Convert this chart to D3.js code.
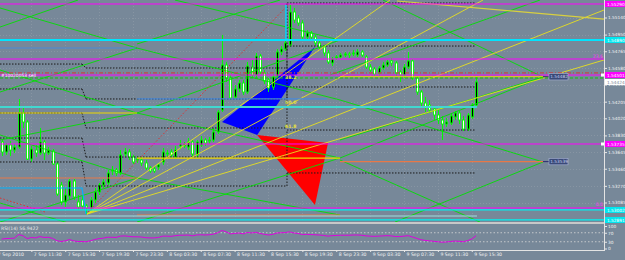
<!DOCTYPE html>
<html><head><meta charset="utf-8">
<script src="https://cdn.jsdelivr.net/npm/d3@7/dist/d3.min.js"></script>
<style>
html,body{margin:0;padding:0;background:#778899;overflow:hidden;}
svg{display:block;}
text{font-family:"DejaVu Sans",sans-serif;}
</style></head><body>
<svg id="c" width="625" height="260"></svg>
<script>
// ---------- DATA ----------
const opens=[1.53757,1.53646,1.53724,1.53668,1.53701,1.54079,1.53979,1.53568,1.53668,1.53635,1.53757,1.53635,1.53657,1.53513,1.53279,1.53091,1.53157,1.53324,1.53091,1.53113,1.53046,1.53024,1.53113,1.53202,1.53279,1.53302,1.53435,1.53446,1.53413,1.53624,1.53646,1.53590,1.53557,1.53557,1.53524,1.53468,1.53457,1.53479,1.53535,1.53624,1.53646,1.53590,1.53713,1.53713,1.53701,1.53757,1.53613,1.53724,1.53779,1.53768,1.53779,1.53868,1.54112,1.54612,1.54468,1.54257,1.54346,1.54412,1.54312,1.54590,1.54501,1.54712,1.54523,1.54446,1.54368,1.54490,1.54757,1.54790,1.54835,1.55201,1.55135,1.55079,1.54923,1.54968,1.54923,1.54857,1.54812,1.54746,1.54635,1.54690,1.54701,1.54723,1.54735,1.54735,1.54723,1.54757,1.54701,1.54590,1.54568,1.54523,1.54579,1.54612,1.54657,1.54635,1.54535,1.54501,1.54590,1.54657,1.54468,1.54312,1.54190,1.54168,1.54124,1.54057,1.54001,1.53957,1.53968,1.54035,1.54079,1.54001,1.53901,1.54035,1.54168];
const highs=[1.53779,1.53746,1.53768,1.53735,1.54235,1.54135,1.54001,1.53713,1.53724,1.53913,1.53779,1.53701,1.53679,1.53535,1.53313,1.53246,1.53346,1.53346,1.53168,1.53157,1.53068,1.53146,1.53246,1.53302,1.53346,1.53446,1.53490,1.53468,1.53668,1.53690,1.53679,1.53613,1.53602,1.53590,1.53557,1.53490,1.53490,1.53524,1.53690,1.53668,1.53679,1.53713,1.53779,1.53757,1.53801,1.53790,1.53779,1.53824,1.53801,1.53813,1.53913,1.54112,1.54946,1.54646,1.54501,1.54390,1.54446,1.54446,1.54646,1.54668,1.54746,1.54735,1.54557,1.54468,1.54512,1.54790,1.54823,1.54890,1.55279,1.55246,1.55168,1.55112,1.55001,1.54990,1.54946,1.54879,1.54835,1.54779,1.54701,1.54723,1.54746,1.54757,1.54757,1.54779,1.54790,1.54779,1.54723,1.54623,1.54590,1.54601,1.54646,1.54668,1.54690,1.54657,1.54557,1.54623,1.54757,1.54679,1.54490,1.54335,1.54257,1.54224,1.54146,1.54112,1.54046,1.54024,1.54079,1.54101,1.54101,1.54046,1.54079,1.54190,1.54479];
const lows=[1.53602,1.53613,1.53602,1.53635,1.53679,1.53913,1.53557,1.53535,1.53590,1.53613,1.53557,1.53613,1.53502,1.53157,1.53057,1.53035,1.53113,1.53113,1.53002,1.53002,1.52957,1.52980,1.53079,1.53168,1.53246,1.53279,1.53390,1.53379,1.53390,1.53590,1.53557,1.53513,1.53524,1.53490,1.53446,1.53413,1.53413,1.53446,1.53502,1.53590,1.53579,1.53568,1.53679,1.53690,1.53668,1.53590,1.53579,1.53701,1.53713,1.53735,1.53757,1.53846,1.54090,1.54424,1.54224,1.54235,1.54312,1.54279,1.54290,1.54468,1.54468,1.54512,1.54401,1.54312,1.54335,1.54468,1.54723,1.54768,1.54812,1.55079,1.55046,1.54901,1.54890,1.54890,1.54823,1.54779,1.54712,1.54623,1.54601,1.54668,1.54679,1.54701,1.54690,1.54712,1.54701,1.54701,1.54568,1.54535,1.54490,1.54490,1.54557,1.54590,1.54601,1.54490,1.54424,1.54468,1.54568,1.54446,1.54279,1.54157,1.54090,1.54079,1.54001,1.53957,1.53779,1.53924,1.53946,1.54001,1.53957,1.53879,1.53879,1.54012,1.54146];
const closes=[1.53646,1.53724,1.53668,1.53701,1.54079,1.53979,1.53568,1.53679,1.53635,1.53757,1.53635,1.53668,1.53513,1.53179,1.53091,1.53168,1.53324,1.53146,1.53035,1.53046,1.53024,1.53113,1.53202,1.53279,1.53313,1.53413,1.53446,1.53413,1.53613,1.53646,1.53590,1.53535,1.53568,1.53524,1.53468,1.53435,1.53435,1.53502,1.53646,1.53635,1.53613,1.53668,1.53735,1.53735,1.53757,1.53624,1.53757,1.53779,1.53746,1.53779,1.53868,1.54090,1.54612,1.54468,1.54246,1.54346,1.54412,1.54312,1.54601,1.54501,1.54712,1.54535,1.54435,1.54357,1.54479,1.54757,1.54790,1.54857,1.55201,1.55112,1.55079,1.54923,1.54968,1.54923,1.54857,1.54812,1.54746,1.54646,1.54679,1.54701,1.54723,1.54735,1.54723,1.54746,1.54757,1.54723,1.54590,1.54557,1.54512,1.54579,1.54612,1.54646,1.54635,1.54523,1.54501,1.54590,1.54657,1.54468,1.54312,1.54190,1.54146,1.54112,1.54057,1.54001,1.53957,1.53979,1.54046,1.54079,1.54001,1.53901,1.54057,1.54168,1.54424];
const rsiValues=[42,44,45,46,62,57,44,49,47,53,49,50,45,35,31,34,40,34,31,31,30,35,40,44,46,50,50,49,55,56,54,52,52,51,48,47,47,49,55,55,54,57,59,59,60,56,60,61,60,61,64,70,80,74,65,67,69,65,71,69,72,67,63,60,63,69,70,71,74,69,67,62,63,62,61,60,58,55,57,58,59,59,59,60,60,59,56,55,54,55,56,57,56,53,53,55,57,51,45,39,36,34,32,30,28,29,31,33,32,30,35,42,56.9422];
const priceTicks=[1.55140,1.54950,1.54765,1.54580,1.54395,1.54205,1.54020,1.53830,1.53645,1.53460,1.53270,1.53085];
const timeTickBars=[-1.5,7,15,23,31,39,47,55,63,71,79,87,95,103,111];
const timeTickLabels=["7 Sep 2010","7 Sep 11:30","7 Sep 15:30","7 Sep 19:30","7 Sep 23:30","8 Sep 03:30","8 Sep 07:30","8 Sep 11:30","8 Sep 15:30","8 Sep 19:30","8 Sep 23:30","9 Sep 03:30","9 Sep 07:30","9 Sep 11:30","9 Sep 15:30"];
const rsiTicks=[100,70,30,0];
const rsiLevels=[70,30];
const viewPrices=[1.553344,1.528684];
const barDomain=[0,112];
// horizontal objects (price levels)
const magentaLevels=[1.55290,1.54679,1.54501,1.53735,1.53024];
const cyanLevels=[1.54890,1.53002,1.52891];
const cyanPartial=[[-0.4,112.23,1.54146]];
const paleCyanPartial=[[-0.4,112.23,1.52935]];
const redDashDotLevel=1.54524;
const greenDashLevel=1.54468;
const yellowSegs=[[-0.4,31.95,1.54079],[31.95,79.88,1.53579],[79.88,127.82,1.54482]];
const orangeSegs=[[-0.4,31.95,1.53357],[31.95,79.88,1.52946],[79.88,127.82,1.53539]];
const blueSegs=[[-0.4,31.7,1.54801],[31.95,76.8,1.54235]];
const skyStep=[[-0.4,1.53246],[18.96,1.53246],[19.91,1.52957]];
const skyVertical=[[67.13,1.54890],[67.13,1.55279]];
// daily pivot-like dotted levels
const pivotA=[1.54623,1.54346,1.54079,1.53801,1.53535];
const pivotB=[1.54579,1.54235,1.53913,1.53590,1.53268];
const pivotC=[1.55301,1.54823,1.54368,1.53890,1.53413];
const pivotBars=[-0.4,18.96,19.91,67.37,111.76];
// diagonal trend lines [bar1, price1, bar2, price2]
const greenLines=[
 [-0.4,1.55034,18.02,1.55334],[-0.4,1.55246,31.95,1.54801],[-0.4,1.54312,31.95,1.54801],
 [-0.4,1.54557,31.95,1.54079],[-0.4,1.53779,31.95,1.54079],[-0.4,1.53835,31.95,1.53357],
 [-0.4,1.52868,31.95,1.53357],[-0.4,1.53079,16.60,1.52846],
 [31.95,1.54801,79.88,1.54224],[31.95,1.54079,79.88,1.53579],[31.95,1.53357,79.88,1.52946],
 [31.95,1.52868,79.88,1.53579],[31.95,1.54079,79.88,1.54890],[40.92,1.55334,79.88,1.54890],
 [31.95,1.54846,65.71,1.55334],
 [79.88,1.53579,127.82,1.54479],[79.88,1.54224,127.82,1.53535],[92.87,1.52868,127.82,1.53535],
 [79.88,1.53557,112.94,1.52868],[90.04,1.55334,127.82,1.54479],[79.88,1.53779,127.82,1.54479],
 [77.52,1.54501,127.1,1.55334]
];
const fanOrigin=[20.14,1.52957];
const fanEnds=[[91.69,1.55334],[113.65,1.55334],[142.22,1.55223],[142.22,1.54668]];
const yellowTopLine=[93.34,1.55323,142.22,1.55123];
const redDotted=[[20.38,1.52980,68.08,1.55301],[-0.4,1.53135,10.22,1.52980]];
const blueTriangle=[[52.02,1.53979],[73.98,1.54812],[60.33,1.53835]];
const redTriangle=[[60.33,1.53835],[77.05,1.53746],[73.98,1.53057]];
const fibTexts=[["38.2",66.9,1.54479],["50.0",66.9,1.54201],["61.8",66.9,1.53924]];
const magentaFibTexts=[["23.6",1.54701],["0.0",1.53057]];
const tradeLabel=["#10020053 sell",-0.4,1.54501];
const magentaBoxes=[1.55290,1.54501,1.53735];
const cyanBoxes=[1.54890,1.53002,1.52891];
const rsiTitle="RSI(14) 56.9422";

// ---------- LAYOUT ----------
const plotR=604, mainB=222, subT=224, subB=250;
const svg=d3.select('#c');
const x=d3.scaleLinear().domain(barDomain).range([1.7,476]);
const y=d3.scaleLinear().domain(viewPrices).range([0,mainB]);
const yr=d3.scaleLinear().domain([0,100]).range([248.5,226]);
const fmt=d3.format(".5f");
const defs=svg.append('defs');
defs.append('clipPath').attr('id','cm').append('rect').attr('x',0).attr('y',0).attr('width',plotR).attr('height',mainB);
defs.append('clipPath').attr('id','cs').append('rect').attr('x',0).attr('y',subT).attr('width',plotR).attr('height',subB-subT);

svg.append('rect').attr('width',625).attr('height',260).attr('fill','#778899');
const main=svg.append('g').attr('clip-path','url(#cm)');

// faint grid
main.selectAll('.gh').data(priceTicks).join('line')
  .attr('x1',0).attr('x2',plotR).attr('y1',d=>Math.round(y(d))+0.5).attr('y2',d=>Math.round(y(d))+0.5)
  .attr('stroke','#8795a3').attr('stroke-dasharray','1,2').attr('stroke-width',1);
main.selectAll('.gv').data(timeTickBars.slice(1)).join('line')
  .attr('x1',d=>Math.round(x(d))+0.5).attr('x2',d=>Math.round(x(d))+0.5).attr('y1',0).attr('y2',mainB)
  .attr('stroke','#8795a3').attr('stroke-dasharray','1,2').attr('stroke-width',1);

// filled triangles (background objects)
const pts=a=>a.map(p=>[x(p[0]),y(p[1])].join(',')).join(' ');
main.append('polygon').attr('points',pts(blueTriangle)).attr('fill','#0000ff');
main.append('polygon').attr('points',pts(redTriangle)).attr('fill','#ff0000');

// candles
const bars=d3.range(opens.length).map(i=>({i,o:opens[i],h:highs[i],l:lows[i],c:closes[i]}));
const cg=main.append('g');
cg.selectAll('.wk').data(bars).join('line')
  .attr('x1',d=>Math.round(x(d.i))+0.5).attr('x2',d=>Math.round(x(d.i))+0.5)
  .attr('y1',d=>y(d.h)).attr('y2',d=>y(d.l)).attr('stroke','#00ff00').attr('stroke-width',1);
cg.selectAll('.bd').data(bars).join('rect')
  .attr('x',d=>Math.round(x(d.i))-0.5).attr('width',2)
  .attr('y',d=>y(Math.max(d.o,d.c))).attr('height',d=>Math.max(0.8,y(Math.min(d.o,d.c))-y(Math.max(d.o,d.c))))
  .attr('fill',d=>d.c>=d.o?'#000000':'#ffffff').attr('stroke','#00ff00').attr('stroke-width',0.9);

// helper for segments
const seg=(g,data,f,color,w,dash)=>g.selectAll(null).data(data).join('line')
  .attr('x1',d=>x(f(d)[0])).attr('y1',d=>y(f(d)[1])).attr('x2',d=>x(f(d)[2])).attr('y2',d=>y(f(d)[3]))
  .attr('stroke',color).attr('stroke-width',w).attr('stroke-dasharray',dash||null);

const og=main.append('g');
// pivot dotted lines
const pivSegs=[];
pivotA.forEach((p,k)=>{
  pivSegs.push([pivotBars[0],p,pivotBars[1],p]);
  pivSegs.push([pivotBars[1],p,pivotBars[2],pivotB[k]]);
  pivSegs.push([pivotBars[2],pivotB[k],pivotBars[3],pivotB[k]]);
  pivSegs.push([pivotBars[3],pivotB[k],pivotBars[3],pivotC[k]]);
  pivSegs.push([pivotBars[3],pivotC[k],pivotBars[4],pivotC[k]]);
});
seg(og,pivSegs,d=>d,'#1a1a1a',1,'1.5,1.5');

// green trend lines
seg(og,greenLines,d=>d,'#00e000',0.9);
// yellow fan
seg(og,fanEnds,d=>[fanOrigin[0],fanOrigin[1],d[0],d[1]],'#e8e020',0.9);
seg(og,[yellowTopLine],d=>d,'#d8d040',1.2);
// red dotted
seg(og,redDotted,d=>d,'#e03030',1,'1.5,2');
// period level segments
seg(og,yellowSegs,d=>[d[0],d[2],d[1],d[2]],'#f0d800',1.2);
seg(og,orangeSegs,d=>[d[0],d[2],d[1],d[2]],'#e87848',1.2);
seg(og,blueSegs,d=>[d[0],d[2],d[1],d[2]],'#4a8ad8',1.2);
// sky step
og.append('path').attr('d',d3.line().x(d=>x(d[0])).y(d=>y(d[1]))(skyStep)).attr('fill','none').attr('stroke','#00b4ff').attr('stroke-width',1.2);
og.append('path').attr('d',d3.line().x(d=>x(d[0])).y(d=>y(d[1]))(skyVertical)).attr('fill','none').attr('stroke','#00d8ff').attr('stroke-width',1.5);
// horizontal full-width lines
const hl=(data,color,w,dash)=>og.selectAll(null).data(data).join('line')
  .attr('x1',0).attr('x2',plotR).attr('y1',d=>y(d)).attr('y2',d=>y(d))
  .attr('stroke',color).attr('stroke-width',w).attr('stroke-dasharray',dash||null);
hl([redDashDotLevel],'#c04848',1.3,'4,2,1,2');
hl([greenDashLevel],'#10c010',1,'3,2');
hl(magentaLevels,'#ff00ff',1);
hl([cyanLevels[0]],'#00e4ff',2);
hl(cyanLevels.slice(1),'#00f0f0',1.2);
seg(og,cyanPartial,d=>[d[0],d[2],d[1],d[2]],'#40d8d0',1.8);
seg(og,paleCyanPartial,d=>[d[0],d[2],d[1],d[2]],'#9ee0e0',1.2);

// value boxes at ends of yellow/orange lines
const ends=[yellowSegs[2],orangeSegs[2]];
og.selectAll(null).data(ends).join('line')
  .attr('x1',d=>x(d[1])).attr('x2',d=>x(d[1])+6).attr('y1',d=>y(d[2])).attr('y2',d=>y(d[2]))
  .attr('stroke','#2a2a70').attr('stroke-width',1);
const eb=og.selectAll(null).data(ends).join('g').attr('transform',d=>`translate(${x(d[1])+6},${y(d[2])})`);
eb.append('rect').attr('x',0).attr('y',-3.2).attr('width',19).attr('height',6.4).attr('fill','#3a4a78').attr('stroke','#aab4d8').attr('stroke-width',0.6);
eb.append('text').attr('x',1.2).attr('y',1.6).attr('font-size',4.3).attr('fill','#c8d0f0').text(d=>fmt(d[2]));

// texts
og.selectAll(null).data(fibTexts).join('text').attr('x',d=>x(d[1])).attr('y',d=>y(d[2])+1.5)
  .attr('font-size',4.6).attr('font-weight','bold').attr('fill','#e8e040').text(d=>d[0]);
og.selectAll(null).data(magentaFibTexts).join('text').attr('x',plotR-1).attr('y',d=>y(d[1])+1)
  .attr('text-anchor','end').attr('font-size',4.6).attr('fill','#ff30ff').text(d=>d[0]);
og.append('text').attr('x',x(tradeLabel[1])+1).attr('y',y(tradeLabel[2])+1.8).attr('font-size',4.4)
  .attr('fill','#ffffff').text(tradeLabel[0]);

// ---------- RSI subwindow ----------
const sub=svg.append('g').attr('clip-path','url(#cs)');
sub.selectAll(null).data(rsiLevels).join('line').attr('x1',0).attr('x2',plotR)
  .attr('y1',d=>yr(d)).attr('y2',d=>yr(d)).attr('stroke','#d8d8d8').attr('stroke-dasharray','1.5,2').attr('stroke-width',0.8);
sub.append('path').datum(rsiValues).attr('d',d3.line().x((d,i)=>x(i)).y(d=>yr(d)))
  .attr('fill','none').attr('stroke','#e000e0').attr('stroke-width',1);
svg.append('text').attr('x',1).attr('y',230).attr('font-size',4.6).attr('fill','#e8e8e8').text(rsiTitle);

// ---------- frame & axes ----------
svg.append('rect').attr('x',0).attr('y',mainB).attr('width',plotR).attr('height',subT-mainB).attr('fill','#c8c8c8');
svg.append('line').attr('x1',plotR+0.5).attr('x2',plotR+0.5).attr('y1',0).attr('y2',subB).attr('stroke','#e4e4e4').attr('stroke-width',1);
svg.append('line').attr('x1',0).attr('x2',plotR+1).attr('y1',subB+0.5).attr('y2',subB+0.5).attr('stroke','#e4e4e4').attr('stroke-width',1);

const ya=svg.append('g').attr('transform',`translate(${plotR+1},0)`)
  .call(d3.axisRight(y).tickValues(priceTicks).tickFormat(fmt).tickSize(2).tickPadding(1));
ya.select('.domain').remove();
ya.selectAll('line').attr('stroke','#e8e8e8');
ya.selectAll('text').attr('fill','#f4f4f4').attr('font-size',4.3).attr('font-family','DejaVu Sans');

const ra=svg.append('g').attr('transform',`translate(${plotR+1},0)`)
  .call(d3.axisRight(yr).tickValues(rsiTicks).tickFormat(d3.format('d')).tickSize(2).tickPadding(1));
ra.select('.domain').remove();
ra.selectAll('line').attr('stroke','#e8e8e8');
ra.selectAll('text').attr('fill','#f4f4f4').attr('font-size',4.3).attr('font-family','DejaVu Sans');

const xa=svg.append('g').attr('transform',`translate(0,${subB})`)
  .call(d3.axisBottom(x).tickValues(timeTickBars).tickFormat((d,i)=>timeTickLabels[i]).tickSize(2).tickPadding(1));
xa.select('.domain').remove();
xa.selectAll('line').attr('stroke','#e8e8e8');
xa.selectAll('text').attr('fill','#f4f4f4').attr('font-size',4.6).attr('text-anchor','start').attr('dx',2).attr('font-family','DejaVu Sans');

// right-axis price boxes
const box=(data,fill,tcol)=>{
  const g=svg.selectAll(null).data(data).join('g').attr('transform',d=>`translate(${plotR+1},${y(d)})`);
  g.append('rect').attr('x',0).attr('y',-3).attr('width',21).attr('height',6).attr('fill',fill);
  g.append('text').attr('x',2).attr('y',1.6).attr('font-size',4.3).attr('fill',tcol).text(d=>fmt(d));
};
box(magentaBoxes,'#ff00ff','#ffffff');
box(cyanBoxes,'#00e8f0','#ffffff');
box([closes[closes.length-1]],'#ffffff','#7a8896');
svg.selectAll(null).data(magentaBoxes.slice(1)).join('rect').attr('x',plotR-3).attr('y',d=>y(d)-1.5).attr('width',3).attr('height',3).attr('fill','#ffffff');
</script>
</body></html>
